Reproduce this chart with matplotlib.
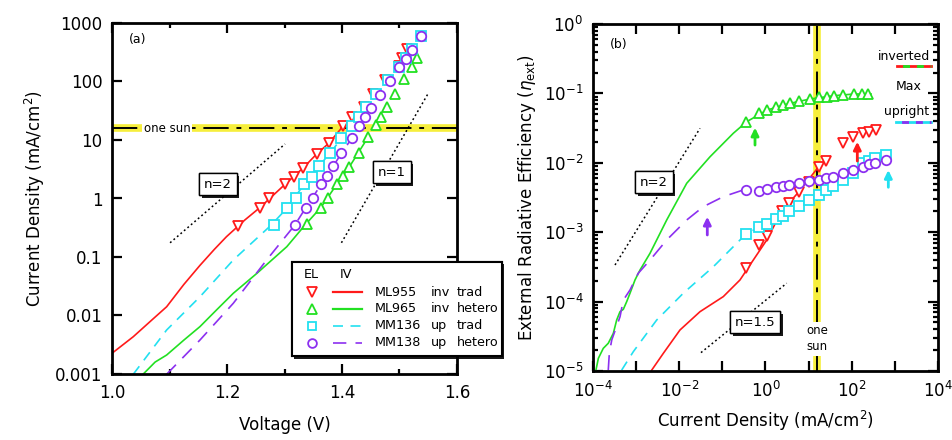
import math
import matplotlib
matplotlib.use("Agg")
import matplotlib.pyplot as plt
import matplotlib.ticker as mticker
import matplotlib.patheffects as pe
from matplotlib.lines import Line2D
from matplotlib.patches import Rectangle

# ---- (a) EL markers: voltage (V) / current density (mA/cm2)
V_ml955 = [1.219, 1.257, 1.273, 1.301, 1.317, 1.333, 1.356, 1.377, 1.402, 1.417, 1.438, 1.454, 1.475, 1.499, 1.504, 1.513]
J_ml955 = [0.34, 0.70, 1.0, 1.75, 2.36, 3.37, 5.77, 8.79, 17.3, 25.1, 36.2, 61.1, 106, 184, 249, 355]
V_ml965 = [1.339, 1.363, 1.375, 1.391, 1.402, 1.413, 1.429, 1.446, 1.459, 1.468, 1.479, 1.493, 1.508, 1.522, 1.530]
J_ml965 = [0.366, 0.697, 1.03, 1.75, 2.43, 3.50, 6.07, 11.4, 18.0, 25.1, 36.2, 61.1, 109, 179, 249]
V_mm136 = [1.281, 1.305, 1.320, 1.334, 1.347, 1.360, 1.380, 1.399, 1.417, 1.429, 1.442, 1.460, 1.480, 1.500, 1.511, 1.521, 1.538]
J_mm136 = [0.352, 0.697, 1.0, 1.75, 2.36, 3.60, 6.07, 10.7, 17.4, 25.1, 36.2, 61.1, 106, 179, 249, 355, 603]
V_mm138 = [1.318, 1.337, 1.350, 1.364, 1.374, 1.385, 1.399, 1.417, 1.430, 1.440, 1.450, 1.466, 1.483, 1.500, 1.511, 1.522, 1.538]
J_mm138 = [0.352, 0.697, 1.03, 1.75, 2.43, 3.60, 5.93, 10.7, 17.4, 24.4, 35.2, 59.4, 103, 175, 243, 345, 600]

# ---- (a) IV curves
Vc_ml955 = [1.0, 1.037, 1.07, 1.095, 1.125, 1.153, 1.178, 1.199, 1.231, 1.257, 1.301, 1.333, 1.356, 1.377, 1.402]
Jc_ml955 = [0.00226, 0.00434, 0.0085, 0.0141, 0.034, 0.072, 0.135, 0.222, 0.429, 0.697, 1.75, 3.37, 5.77, 8.79, 17.3]
Vc_ml965 = [1.054, 1.075, 1.095, 1.125, 1.153, 1.182, 1.211, 1.252, 1.304, 1.336, 1.363, 1.391, 1.413, 1.446]
Jc_ml965 = [0.00099, 0.00160, 0.00211, 0.0038, 0.00646, 0.0125, 0.024, 0.0526, 0.15, 0.355, 0.697, 1.75, 3.5, 11.4]
Vc_mm136 = [1.037, 1.095, 1.153, 1.211, 1.277, 1.305, 1.334, 1.360, 1.380, 1.399]
Jc_mm136 = [0.00099, 0.00565, 0.0209, 0.0891, 0.352, 0.697, 1.75, 3.6, 6.07, 10.7]
Vc_mm138 = [1.095, 1.153, 1.211, 1.269, 1.318, 1.337, 1.364, 1.385, 1.399, 1.417]
Jc_mm138 = [0.00099, 0.00381, 0.0162, 0.0891, 0.352, 0.697, 1.75, 3.6, 5.93, 10.7]

# ideality guide lines (a)
V_n2a = [1.101, 1.301]
J_n2a = [0.175, 8.55]
V_n1a = [1.399, 1.549]
J_n1a = [0.175, 60.4]

J_sun = 15.9

# ---- (b) EL efficiency markers: current density / eta_ext
Jb_ml955 = [0.353, 0.718, 1.07, 2.38, 3.56, 5.98, 10.4, 17.1, 25.3, 61.7, 109, 185, 255, 365]
E_ml955 = [0.000301, 0.000655, 0.000881, 0.00202, 0.00261, 0.00384, 0.00525, 0.00879, 0.0107, 0.0191, 0.0233, 0.0272, 0.0281, 0.0297]
Jb_ml965 = [0.348, 0.718, 1.10, 1.75, 2.59, 3.70, 6.08, 10.8, 17.7, 27.1, 38.7, 63.7, 113, 170, 242]
E_ml965 = [0.0391, 0.0516, 0.0577, 0.0631, 0.0681, 0.0719, 0.0785, 0.0830, 0.0877, 0.0895, 0.0927, 0.0948, 0.098, 0.098, 0.097]
Jb_mm136 = [0.353, 0.718, 1.07, 1.75, 2.51, 3.56, 5.98, 10.4, 17.4, 25.3, 36.1, 61.7, 105, 186, 255, 346, 612]
E_mm136 = [0.000933, 0.00120, 0.00130, 0.00153, 0.00171, 0.00202, 0.00239, 0.00291, 0.00344, 0.00406, 0.00463, 0.00565, 0.00705, 0.00984, 0.0107, 0.0116, 0.0129]
Jb_mm138 = [0.353, 0.718, 1.07, 1.75, 2.51, 3.51, 5.98, 10.4, 17.4, 25.3, 36.1, 61.7, 105, 179, 251, 346, 612]
E_mm138 = [0.00406, 0.00393, 0.00419, 0.00444, 0.00463, 0.00479, 0.00516, 0.00552, 0.00565, 0.00604, 0.00631, 0.00705, 0.00787, 0.00879, 0.00951, 0.01005, 0.01096]

# ---- (b) curves from IV
Jbc_ml955 = [0.0023, 0.00428, 0.0104, 0.0303, 0.105, 0.256, 0.521, 1.07, 2.38, 5.98, 17.1, 25.3]
Ec_ml955 = [1.03e-5, 1.80e-5, 3.90e-5, 7.16e-5, 1.18e-4, 2.05e-4, 3.97e-4, 7.73e-4, 2.02e-3, 3.84e-3, 8.79e-3, 1.07e-2]
Jbc_ml965 = [1.17e-4, 1.33e-4, 1.73e-4, 2.26e-4, 2.96e-4, 3.54e-4, 4.23e-4, 5.05e-4, 6.04e-4, 7.21e-4, 9.42e-4, 1.23e-3,
             2.10e-3, 5.12e-3, 0.0149, 0.0516, 0.179, 0.366, 1.10, 3.70, 10.8, 38.7, 113, 280]
Ec_ml965 = [1.03e-5, 1.52e-5, 2.12e-5, 2.51e-5, 3.49e-5, 5.43e-5, 7.16e-5, 7.74e-5, 9.98e-5, 1.32e-4, 2.05e-4, 2.85e-4,
            4.97e-4, 1.50e-3, 5.07e-3, 0.0122, 0.0266, 0.0391, 0.0577, 0.0719, 0.083, 0.0927, 0.098, 0.098]
Jbc_mm136 = [4.62e-4, 8.61e-4, 3.0e-3, 0.0124, 0.0617, 0.305, 0.353, 0.718, 1.75, 3.56, 10.4, 17.4]
Ec_mm136 = [1.03e-5, 1.90e-5, 5.43e-5, 1.32e-4, 3.18e-4, 8.61e-4, 9.33e-4, 1.20e-3, 1.53e-3, 2.02e-3, 2.91e-3, 3.44e-3]
Jbc_mm138 = [2.26e-4, 2.39e-4, 2.72e-4, 4.23e-4, 5.05e-4, 7.21e-4, 1.12e-3, 2.10e-3, 5.12e-3, 0.0149, 0.0361, 0.105, 0.305]
Ec_mm138 = [1.03e-5, 1.80e-5, 2.80e-5, 6.05e-5, 1.05e-4, 1.47e-4, 2.56e-4, 3.97e-4, 7.73e-4, 1.50e-3, 2.33e-3, 3.25e-3, 4.06e-3]

# guides (b)
J_n2b = [3.24e-4, 0.0303]
E_n2b = [3.37e-4, 0.0314]
J_n15b = [0.0319, 3.10]
E_n15b = [1.84e-5, 1.84e-4]

# arrows marking max efficiency (b)
arrow_J = [0.571, 134.6, 705, 0.0447]
arrow_lo = [0.018, 0.0106, 0.00444, 9.12e-4]
arrow_hi = [0.0321, 0.0201, 0.00787, 0.00167]

# legend text
names = ["ML955", "ML965", "MM136", "MM138"]
orient = ["inv", "inv", "up", "up"]
kind = ["trad", "hetero", "trad", "hetero"]

RED = "#ff1a1a"
GREEN = "#22e022"
CYAN = "#22e0f0"
PURPLE = "#8c30f0"
YELLOW = "#f6ee3c"
colors = [RED, GREEN, CYAN, PURPLE]
markers = ["v", "^", "s", "o"]
msizes = [7.5, 7.5, 6.5, 6.8]
styles = [dict(ls="-"), dict(ls="-"), dict(dashes=(6, 4.5)), dict(dashes=(8, 5.5))]

W, H = 953, 440


def fx(px):
    return px / W


def fy(py):
    return 1 - py / H


plt.rcParams["font.family"] = "DejaVu Sans"
fig = plt.figure(figsize=(W / 100, H / 100), dpi=100)
axa = fig.add_axes([fx(112), fy(374), (457 - 112) / W, (374 - 23) / H])
axb = fig.add_axes([fx(593), fy(371), (938 - 593) / W, (371 - 24) / H])

shadow = [pe.withSimplePatchShadow(offset=(2, -2), shadow_rgbFace="k", alpha=0.9), pe.Normal()]

# ================= panel (a)
axa.set_yscale("log")
axa.set_xlim(1.0, 1.6)
axa.set_ylim(1e-3, 1e3)

axa.axhline(J_sun, color=YELLOW, lw=5.5, zorder=1)
axa.axhline(J_sun, color="k", lw=1.4, dashes=(13, 4, 2.5, 4), zorder=1.5)
axa.text(1.0957, J_sun, "one sun", fontsize=8.5, ha="center", va="center",
         bbox=dict(facecolor="white", edgecolor="none", pad=1.0), zorder=2)

axa.plot(V_n2a, J_n2a, color="k", lw=1.1, ls=(0, (1.2, 1.8)), zorder=1.5)
axa.plot(V_n1a, J_n1a, color="k", lw=1.1, ls=(0, (1.2, 1.8)), zorder=1.5)

curves_a = [(Vc_ml955, Jc_ml955), (Vc_ml965, Jc_ml965), (Vc_mm136, Jc_mm136), (Vc_mm138, Jc_mm138)]
pts_a = [(V_ml955, J_ml955), (V_ml965, J_ml965), (V_mm136, J_mm136), (V_mm138, J_mm138)]
for i in range(4):
    axa.plot(curves_a[i][0], curves_a[i][1], color=colors[i], lw=1.2, zorder=2, **styles[i])
for i in range(4):
    axa.plot(pts_a[i][0], pts_a[i][1], ls="none", marker=markers[i], ms=msizes[i], mfc="white",
             mec=colors[i], mew=1.3, zorder=3 + i)

axa.xaxis.set_major_locator(mticker.MultipleLocator(0.2))
axa.xaxis.set_minor_locator(mticker.MultipleLocator(0.1))
axa.xaxis.set_major_formatter(mticker.FormatStrFormatter("%.1f"))
axa.yaxis.set_major_locator(mticker.LogLocator(base=10, numticks=20))
axa.yaxis.set_minor_locator(mticker.NullLocator())
axa.yaxis.set_major_formatter(mticker.FuncFormatter(lambda v, p: "%g" % v))
axa.set_xlabel("Voltage (V)", fontsize=12, labelpad=10)
axa.set_ylabel("Current Density (mA/cm$^2$)", fontsize=12, labelpad=6)

for txt, (px, py) in [("n=2", (218, 184)), ("n=1", (392, 172))]:
    t = fig.text(fx(px), fy(py), txt, fontsize=9.5, ha="center", va="center",
                 bbox=dict(facecolor="white", edgecolor="k", lw=1.0, boxstyle="square,pad=0.35"), zorder=5)
    t.get_bbox_patch().set_path_effects(shadow)

fig.text(fx(137.7), fy(40), "(a)", fontsize=9, ha="center", va="center")

# legend box for (a), drawn by hand
box = Rectangle((fx(291.7), fy(356)), (501.7 - 291.7) / W, (356 - 261.7) / H, transform=fig.transFigure,
                facecolor="white", edgecolor="k", lw=1.5, zorder=4)
box.set_path_effects(shadow)
fig.add_artist(box)
fig.text(fx(311.7), fy(274), "EL", fontsize=9.2, ha="center", va="center", zorder=6)
fig.text(fx(346), fy(274), "IV", fontsize=9.2, ha="center", va="center", zorder=6)
rows_y = [292.3, 308.6, 325.5, 342.5]
for i in range(4):
    y = fy(rows_y[i])
    fig.add_artist(Line2D([fx(311.7)], [y], transform=fig.transFigure, ls="none", marker=markers[i],
                          ms=msizes[i] - 0.5, mfc="white", mec=colors[i], mew=1.3, zorder=6))
    fig.add_artist(Line2D([fx(333.3), fx(361.7)], [y, y], transform=fig.transFigure, color=colors[i],
                          lw=1.6 if i < 2 else 1.2, zorder=6, **styles[i]))
    fig.text(fx(374.3), y, names[i], fontsize=9.2, ha="left", va="center", zorder=6)
    fig.text(fx(431), y, orient[i], fontsize=9.2, ha="left", va="center", zorder=6)
    fig.text(fx(456.5), y, kind[i], fontsize=9.2, ha="left", va="center", zorder=6)

# ================= panel (b)
axb.set_xscale("log")
axb.set_yscale("log")
axb.set_xlim(1e-4, 1e4)
axb.set_ylim(1e-5, 1)

axb.axvline(J_sun, color=YELLOW, lw=5.5, zorder=1)
axb.axvline(J_sun, color="k", lw=1.4, dashes=(13, 4, 2.5, 4), zorder=1.5)
axb.text(J_sun, 2.9e-5, "one\nsun", fontsize=8.5, ha="center", va="center", linespacing=1.3,
         bbox=dict(facecolor="white", edgecolor="none", pad=1.5), zorder=2)

axb.plot(J_n2b, E_n2b, color="k", lw=1.1, ls=(0, (1.2, 1.8)), zorder=1.5)
axb.plot(J_n15b, E_n15b, color="k", lw=1.1, ls=(0, (1.2, 1.8)), zorder=1.5)

curves_b = [(Jbc_ml955, Ec_ml955), (Jbc_ml965, Ec_ml965), (Jbc_mm136, Ec_mm136), (Jbc_mm138, Ec_mm138)]
pts_b = [(Jb_ml955, E_ml955), (Jb_ml965, E_ml965), (Jb_mm136, E_mm136), (Jb_mm138, E_mm138)]
styles_b = [dict(ls="-"), dict(ls="-"), dict(dashes=(6, 4.5)), dict(dashes=(9, 6))]
for i in range(4):
    axb.plot(curves_b[i][0], curves_b[i][1], color=colors[i], lw=1.2, zorder=2, **styles_b[i])
for i in range(4):
    axb.plot(pts_b[i][0], pts_b[i][1], ls="none", marker=markers[i], ms=msizes[i], mfc="white",
             mec=colors[i], mew=1.3, zorder=3 + i)

arrow_colors = [GREEN, RED, CYAN, PURPLE]
for i in range(4):
    axb.annotate("", xy=(arrow_J[i], arrow_hi[i]), xytext=(arrow_J[i], arrow_lo[i]),
                 arrowprops=dict(arrowstyle="-|>,head_length=0.45,head_width=0.22", color=arrow_colors[i],
                                 lw=2, shrinkA=0, shrinkB=0), zorder=8)

axb.xaxis.set_major_locator(mticker.LogLocator(base=10, numticks=20))
axb.xaxis.set_minor_locator(mticker.NullLocator())


def decade_label(v, p):
    return "$10^{%d}$" % round(math.log10(v))


def even_decades(v, p):
    e = round(math.log10(v))
    return decade_label(v, p) if e % 2 == 0 else ""


axb.xaxis.set_major_formatter(mticker.FuncFormatter(even_decades))
axb.yaxis.set_major_locator(mticker.LogLocator(base=10, numticks=20))
axb.yaxis.set_minor_locator(mticker.LogLocator(base=10, subs=range(2, 10), numticks=20))
axb.yaxis.set_minor_formatter(mticker.NullFormatter())
axb.yaxis.set_major_formatter(mticker.FuncFormatter(decade_label))
axb.set_xlabel("Current Density (mA/cm$^2$)", fontsize=12, labelpad=6)
axb.set_ylabel(r"External Radiative Efficiency ($\eta_{\rm ext}$)", fontsize=12, labelpad=4)

for txt, (px, py) in [("n=2", (654, 182)), ("n=1.5", (755, 322))]:
    t = fig.text(fx(px), fy(py), txt, fontsize=9.5, ha="center", va="center",
                 bbox=dict(facecolor="white", edgecolor="k", lw=1.0, boxstyle="square,pad=0.35"), zorder=5)
    t.get_bbox_patch().set_path_effects(shadow)

fig.text(fx(618.3), fy(44.3), "(b)", fontsize=9, ha="center", va="center")

# max efficiency key on the right of (b)
fig.text(fx(903.8), fy(56.7), "inverted", fontsize=9, ha="center", va="center")
fig.add_artist(Line2D([fx(896.7), fx(930.7)], [fy(65.7)] * 2, transform=fig.transFigure, color=RED, lw=2))
fig.add_artist(Line2D([fx(896.7), fx(930.7)], [fy(65.7)] * 2, transform=fig.transFigure, color=GREEN, lw=2,
                      ls=(3, (2.5, 2.5))))
fig.text(fx(908.3), fy(86), "Max", fontsize=9, ha="center", va="center")
fig.text(fx(906.7), fy(111.7), "upright", fontsize=9, ha="center", va="center")
fig.add_artist(Line2D([fx(896), fx(930.7)], [fy(121.7)] * 2, transform=fig.transFigure, color=CYAN, lw=2))
fig.add_artist(Line2D([fx(896), fx(930.7)], [fy(121.7)] * 2, transform=fig.transFigure, color=PURPLE, lw=2,
                      ls=(3, (2.5, 2.5))))

for ax in (axa, axb):
    for s in ax.spines.values():
        s.set_linewidth(2)
    ax.tick_params(which="both", direction="in", top=True, right=True, width=1.6, labelsize=12)
    ax.tick_params(which="major", length=7, pad=7)
    ax.tick_params(which="minor", length=3.5)

fig.savefig("out.png", dpi=100)
